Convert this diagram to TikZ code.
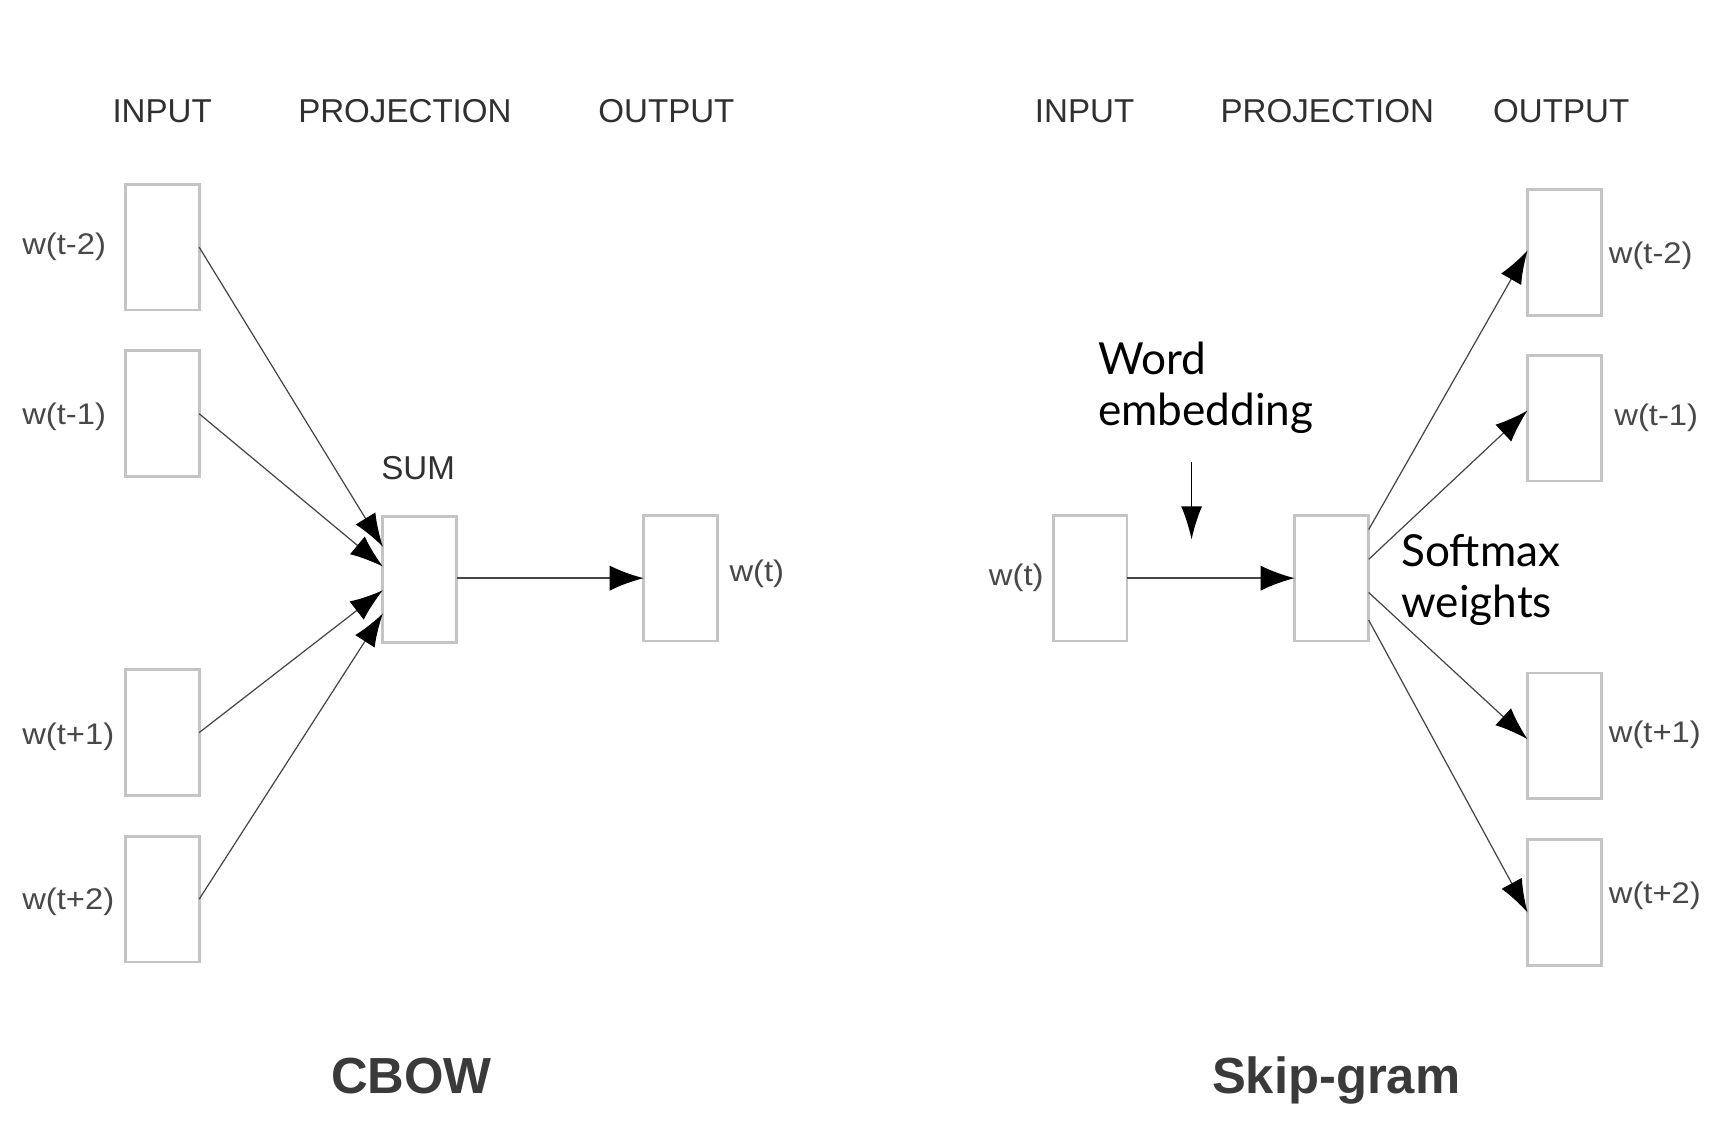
\documentclass[tikz,border=0pt]{standalone}
\usepackage{fontspec}
\setmainfont{Liberation Sans}
\newfontfamily\labfont[FakeStretch=1.1]{Liberation Sans}
\newfontfamily\humfont{Lato}
\usetikzlibrary{arrows.meta}
\definecolor{boxgray}{HTML}{C4C4C4}
\definecolor{hdrgray}{HTML}{303030}
\definecolor{labgray}{HTML}{484848}
\definecolor{linegray}{HTML}{454545}
\definecolor{titlegray}{HTML}{3A3A3A}
\begin{document}
\begin{tikzpicture}[x=1pt,y=-1pt,
  box/.style={draw=boxgray, line width=2.5pt, fill=white, minimum width=67pt, minimum height=114pt, inner sep=0pt, outer sep=0pt},
  hdr/.style={font=\fontsize{30}{36}\selectfont, text=hdrgray, inner sep=0pt},
  lab/.style={font=\labfont\fontsize{27}{32}\selectfont, text=labgray, inner sep=0pt},
  ttl/.style={font=\bfseries\fontsize{46}{52}\selectfont, text=titlegray, inner sep=0pt, anchor=base},
  note/.style={font=\humfont\fontsize{40}{46}\selectfont, text=black, inner sep=0pt, anchor=north west, align=left},
  arr/.style={draw=linegray, line width=1.1pt, -{Latex[length=30pt,width=21pt,color=black]}},
  harr/.style={draw=linegray, line width=1.6pt, -{Latex[length=31pt,width=23pt,color=black]}},
  darr/.style={draw=black, line width=1.3pt, -{Latex[length=30pt,width=19pt]}}
]
\useasboundingbox (0,0) rectangle (1568,1024);
\fill[white] (0,0) rectangle (1568,1024);

% ---------- CBOW ----------
\node[hdr] (h1) at (147,101) {INPUT};
\node[hdr] (h2) at (367,101) {PROJECTION};
\node[hdr] (h3) at (604,101) {OUTPUT};

\node[box] (in1) at (147,224) {};
\node[box] (in2) at (147,375) {};
\node[box] (in3) at (147,664) {};
\node[box] (in4) at (147,815) {};
\node[box] (sum) at (380.5,525) {};
\node[box] (out) at (617,524) {};

\node[lab, anchor=west] (l1) at (20,224) {w(t-2)};
\node[lab, anchor=west] (l2) at (20,378) {w(t-1)};
\node[lab, anchor=west] (l3) at (20,668) {w(t+1)};
\node[lab, anchor=west] (l4) at (20,817) {w(t+2)};
\node[lab, anchor=west] (lo) at (661,520) {w(t)};
\node[hdr] (sumlab) at (379,424) {SUM};

\draw[arr] (in1.east) -- ([yshift=29.5pt]sum.west);
\draw[arr] (in2.east) -- ([yshift=11.5pt]sum.west);
\draw[arr] (in3.east) -- ([yshift=-10pt]sum.west);
\draw[arr] (in4.east) -- ([yshift=-31pt]sum.west);
\draw[harr] (sum.east |- out.west) -- (out.west);

\node[ttl] (cbow) at (373,991) {CBOW};

% ---------- Skip-gram ----------
\node[hdr] (h4) at (983,101) {INPUT};
\node[hdr] (h5) at (1203,101) {PROJECTION};
\node[hdr] (h6) at (1415,101) {OUTPUT};

\node[box] (win) at (988,524) {};
\node[box] (proj) at (1207,524) {};
\node[box] (o1) at (1418,229) {};
\node[box] (o2) at (1418,379) {};
\node[box] (o3) at (1418,667) {};
\node[box] (o4) at (1418,818) {};

\node[lab, anchor=east] (lw) at (946,524) {w(t)};
\node[lab, anchor=west] (r1) at (1458,232) {w(t-2)};
\node[lab, anchor=west] (r2) at (1463,379) {w(t-1)};
\node[lab, anchor=west] (r3) at (1458,666) {w(t+1)};
\node[lab, anchor=west] (r4) at (1458,812) {w(t+2)};

\draw[harr] (win.east) -- (proj.west);
\draw[arr] ([yshift=44pt]proj.east) -- ([yshift=2pt]o1.west);
\draw[arr] ([yshift=17pt]proj.east) -- ([yshift=7pt]o2.west);
\draw[arr] ([yshift=-13pt]proj.east) -- ([yshift=-3pt]o3.west);
\draw[arr] ([yshift=-38pt]proj.east) -- ([yshift=-9pt]o4.west);

\node[note] (we) at (995,310) {Word\\embedding};
\node[note] (sw) at (1270,484) {Softmax\\weights};
\coordinate (d1) at (1080,419);
\coordinate (d2) at (1080,489);
\draw[darr] (d1) -- (d2);

\node[ttl] (skip) at (1211,991) {Skip-gram};
\end{tikzpicture}
\end{document}
